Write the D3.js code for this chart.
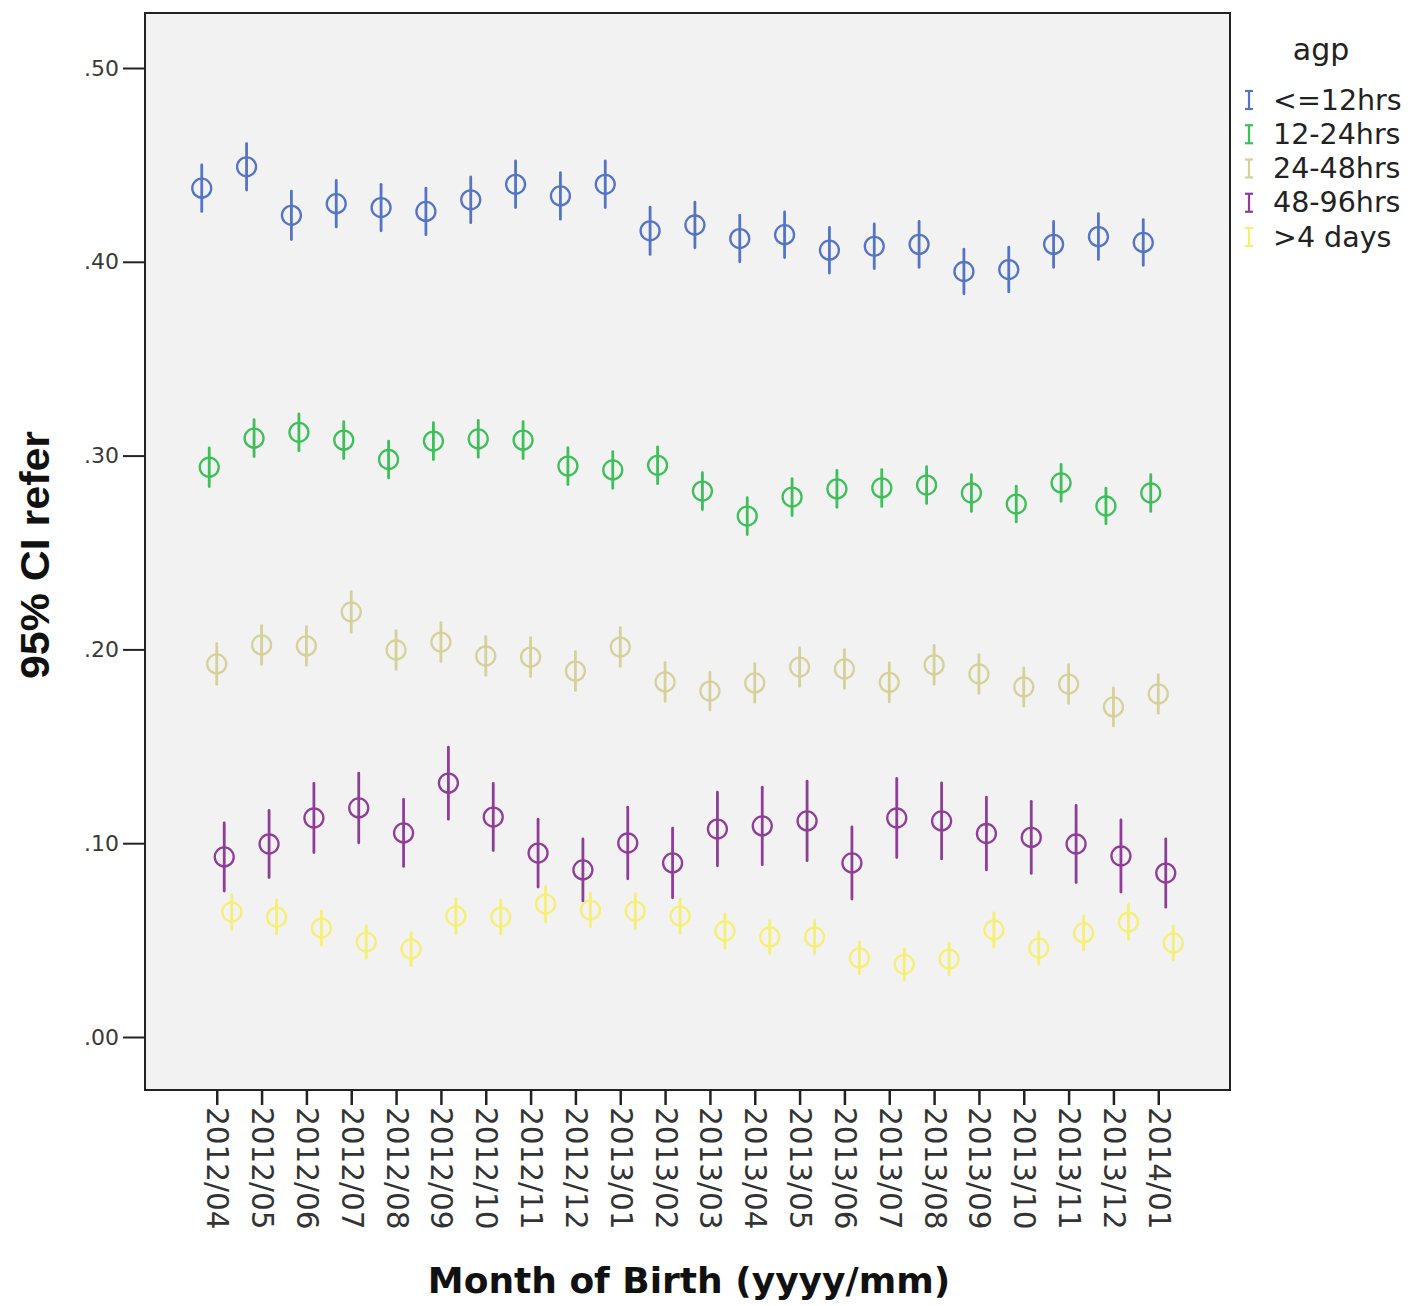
<!DOCTYPE html>
<html>
<head>
<meta charset="utf-8">
<script src="https://cdn.jsdelivr.net/npm/d3@7"></script>
<style>
  html, body { margin: 0; padding: 0; background: #ffffff; }
  svg { display: block; }
</style>
</head>
<body>
<svg id="chart" width="1412" height="1306"></svg>
<script>
// Month of birth categories
const months = ["2012/04","2012/05","2012/06","2012/07","2012/08","2012/09","2012/10","2012/11",
  "2012/12","2013/01","2013/02","2013/03","2013/04","2013/05","2013/06","2013/07","2013/08",
  "2013/09","2013/10","2013/11","2013/12","2014/01"];

// Age-group series names
const groups = ["<=12hrs", "12-24hrs", "24-48hrs", "48-96hrs", ">4 days"];

// Mean proportion referred, per group
const meanLe12 = [0.438,0.449,0.424,0.430,0.428,0.426,0.432,0.440,0.434,0.440,0.416,0.419,0.412,0.414,0.406,0.408,0.409,0.395,0.396,0.409,0.413,0.410];
const mean12to24 = [0.294,0.309,0.312,0.308,0.298,0.3075,0.3086,0.308,0.2946,0.2926,0.295,0.2817,0.2688,0.2786,0.2828,0.2833,0.2848,0.2807,0.275,0.2859,0.274,0.2807];
const mean24to48 = [0.1925,0.2023,0.2018,0.2193,0.1997,0.2038,0.1966,0.196,0.1888,0.2012,0.1832,0.1785,0.1827,0.1909,0.1899,0.1830,0.1920,0.1873,0.1806,0.1821,0.1703,0.1770];
const mean48to96 = [0.0929,0.0996,0.113,0.1182,0.1053,0.131,0.1135,0.0949,0.0862,0.1001,0.0898,0.1073,0.1089,0.1115,0.0898,0.113,0.1115,0.1050,0.1030,0.0996,0.0934,0.0846];
const meanOver4 = [0.0645,0.0619,0.0562,0.049,0.0454,0.0624,0.0619,0.0686,0.0655,0.065,0.0624,0.0547,0.0516,0.0516,0.0408,0.0375,0.0402,0.0552,0.0459,0.0537,0.0593,0.0485];

// Half-width of the 95% confidence interval, per group
const ciLe12 = [0.0120,0.0120,0.0125,0.0120,0.0120,0.0120,0.0118,0.0120,0.0120,0.0120,0.0122,0.0118,0.0120,0.0118,0.0118,0.0115,0.0118,0.0115,0.0115,0.0118,0.0118,0.0118];
const ci12to24 = [0.0100,0.0095,0.0095,0.0095,0.0095,0.0095,0.0095,0.0095,0.0095,0.0095,0.0095,0.0095,0.0095,0.0095,0.0095,0.0095,0.0095,0.0095,0.0092,0.0095,0.0092,0.0095];
const ci24to48 = [0.0105,0.0100,0.0100,0.0105,0.0100,0.0100,0.0100,0.0100,0.0100,0.0100,0.0100,0.0098,0.0100,0.0100,0.0100,0.0100,0.0100,0.0100,0.0098,0.0100,0.0098,0.0100];
const ci48to96 = [0.0176,0.0173,0.0178,0.0180,0.0173,0.0186,0.0173,0.0175,0.0160,0.0185,0.0180,0.0190,0.0200,0.0205,0.0186,0.0204,0.0196,0.0188,0.0186,0.0199,0.0186,0.0176];
const ciOver4 = [0.0090,0.0088,0.0088,0.0085,0.0085,0.0090,0.0088,0.0090,0.0088,0.0090,0.0088,0.0088,0.0085,0.0085,0.0082,0.0080,0.0082,0.0088,0.0085,0.0088,0.0090,0.0088];

// Y axis tick values and labels
const yTicks = [0, 0.1, 0.2, 0.3, 0.4, 0.5];
const yTickLabels = [".00", ".10", ".20", ".30", ".40", ".50"];

const colors = ["#5474c6", "#3fbf5a", "#d6d19a", "#8f3e98", "#f5ef76"];

const meansByGroup = [meanLe12, mean12to24, mean24to48, mean48to96, meanOver4];
const ciByGroup = [ciLe12, ci12to24, ci24to48, ci48to96, ciOver4];

const svg = d3.select("#chart");

const plot = { left: 145, right: 1230, top: 13, bottom: 1090 };

const x = d3.scalePoint().domain(months).range([plot.left, plot.right]).padding(1.6);
const dodge = d3.scalePoint().domain(groups).range([-15, 15]);
const y = d3.scaleLinear().domain([0, 0.5]).range([1037, 68]);

// plot background
svg.append("rect")
  .attr("x", plot.left).attr("y", plot.top)
  .attr("width", plot.right - plot.left).attr("height", plot.bottom - plot.top)
  .attr("fill", "#f2f2f2");

// error bars + mean markers
groups.forEach((g, gi) => {
  const pts = months.map((m, i) => ({ m, v: meansByGroup[gi][i], h: ciByGroup[gi][i] }));
  const layer = svg.append("g").attr("class", "series");
  layer.selectAll("line").data(pts).join("line")
    .attr("x1", d => x(d.m) + dodge(g)).attr("x2", d => x(d.m) + dodge(g))
    .attr("y1", d => y(d.v - d.h)).attr("y2", d => y(d.v + d.h))
    .attr("stroke", colors[gi]).attr("stroke-width", 2.8).attr("stroke-linecap", "round");
  layer.selectAll("circle").data(pts).join("circle")
    .attr("cx", d => x(d.m) + dodge(g)).attr("cy", d => y(d.v))
    .attr("r", 9.5)
    .attr("fill", "none").attr("stroke", colors[gi]).attr("stroke-width", 2.3);
});

// frame
svg.append("rect")
  .attr("x", plot.left).attr("y", plot.top)
  .attr("width", plot.right - plot.left).attr("height", plot.bottom - plot.top)
  .attr("fill", "none").attr("stroke", "#222").attr("stroke-width", 2);

// Y axis
const yAxis = d3.axisLeft(y).tickValues(yTicks)
  .tickFormat((d, i) => yTickLabels[i]).tickSize(21).tickPadding(4);
const yg = svg.append("g").attr("transform", `translate(${plot.left - 1},0)`).call(yAxis);
yg.select(".domain").remove();
yg.selectAll(".tick line").attr("stroke", "#222").attr("stroke-width", 2);
yg.selectAll(".tick text")
  .attr("font-family", "DejaVu Sans").attr("font-size", 22).attr("fill", "#3a3a3a");

// X axis
const xAxis = d3.axisBottom(x).tickSize(0);
const xg = svg.append("g").attr("transform", `translate(0,${plot.bottom})`).call(xAxis);
xg.select(".domain").remove();
xg.selectAll(".tick").append("line")
  .attr("y1", 0).attr("y2", 15).attr("stroke", "#222").attr("stroke-width", 2.5);
xg.selectAll(".tick text")
  .attr("font-family", "DejaVu Sans").attr("font-size", 29.5).attr("fill", "#333")
  .attr("text-anchor", "start").attr("dy", null)
  .attr("transform", "translate(0,17) rotate(90)")
  .attr("x", 0).attr("y", 0)
  .attr("dominant-baseline", "central");

// Axis titles
svg.append("text")
  .attr("x", 689).attr("y", 1293)
  .attr("text-anchor", "middle")
  .attr("font-family", "DejaVu Sans").attr("font-weight", "bold").attr("font-size", 36)
  .attr("fill", "#111")
  .text("Month of Birth (yyyy/mm)");

svg.append("text")
  .attr("transform", "translate(49,555) rotate(-90)")
  .attr("text-anchor", "middle")
  .attr("font-family", "Liberation Sans Narrow, Liberation Sans").attr("font-weight", "bold")
  .attr("font-size", 40)
  .attr("textLength", 248).attr("lengthAdjust", "spacingAndGlyphs")
  .attr("fill", "#111")
  .text("95% CI refer");

// Legend
const legend = svg.append("g");
legend.append("text")
  .attr("x", 1321).attr("y", 60)
  .attr("text-anchor", "middle")
  .attr("font-family", "DejaVu Sans").attr("font-size", 30).attr("fill", "#222")
  .text("agp");
const rowY = d3.scalePoint().domain(groups).range([100, 237]);
groups.forEach((g, gi) => {
  const cy = rowY(g);
  const sym = legend.append("g").attr("stroke", colors[gi]).attr("stroke-width", 2.2);
  sym.append("line").attr("x1", 1249).attr("x2", 1249).attr("y1", cy - 9).attr("y2", cy + 9);
  sym.append("line").attr("x1", 1245).attr("x2", 1253).attr("y1", cy - 9).attr("y2", cy - 9);
  sym.append("line").attr("x1", 1245).attr("x2", 1253).attr("y1", cy + 9).attr("y2", cy + 9);
  legend.append("text")
    .attr("x", 1273).attr("y", cy)
    .attr("dominant-baseline", "central")
    .attr("font-family", "DejaVu Sans").attr("font-size", 28.5).attr("fill", "#222")
    .text(g);
});
</script>
</body>
</html>
